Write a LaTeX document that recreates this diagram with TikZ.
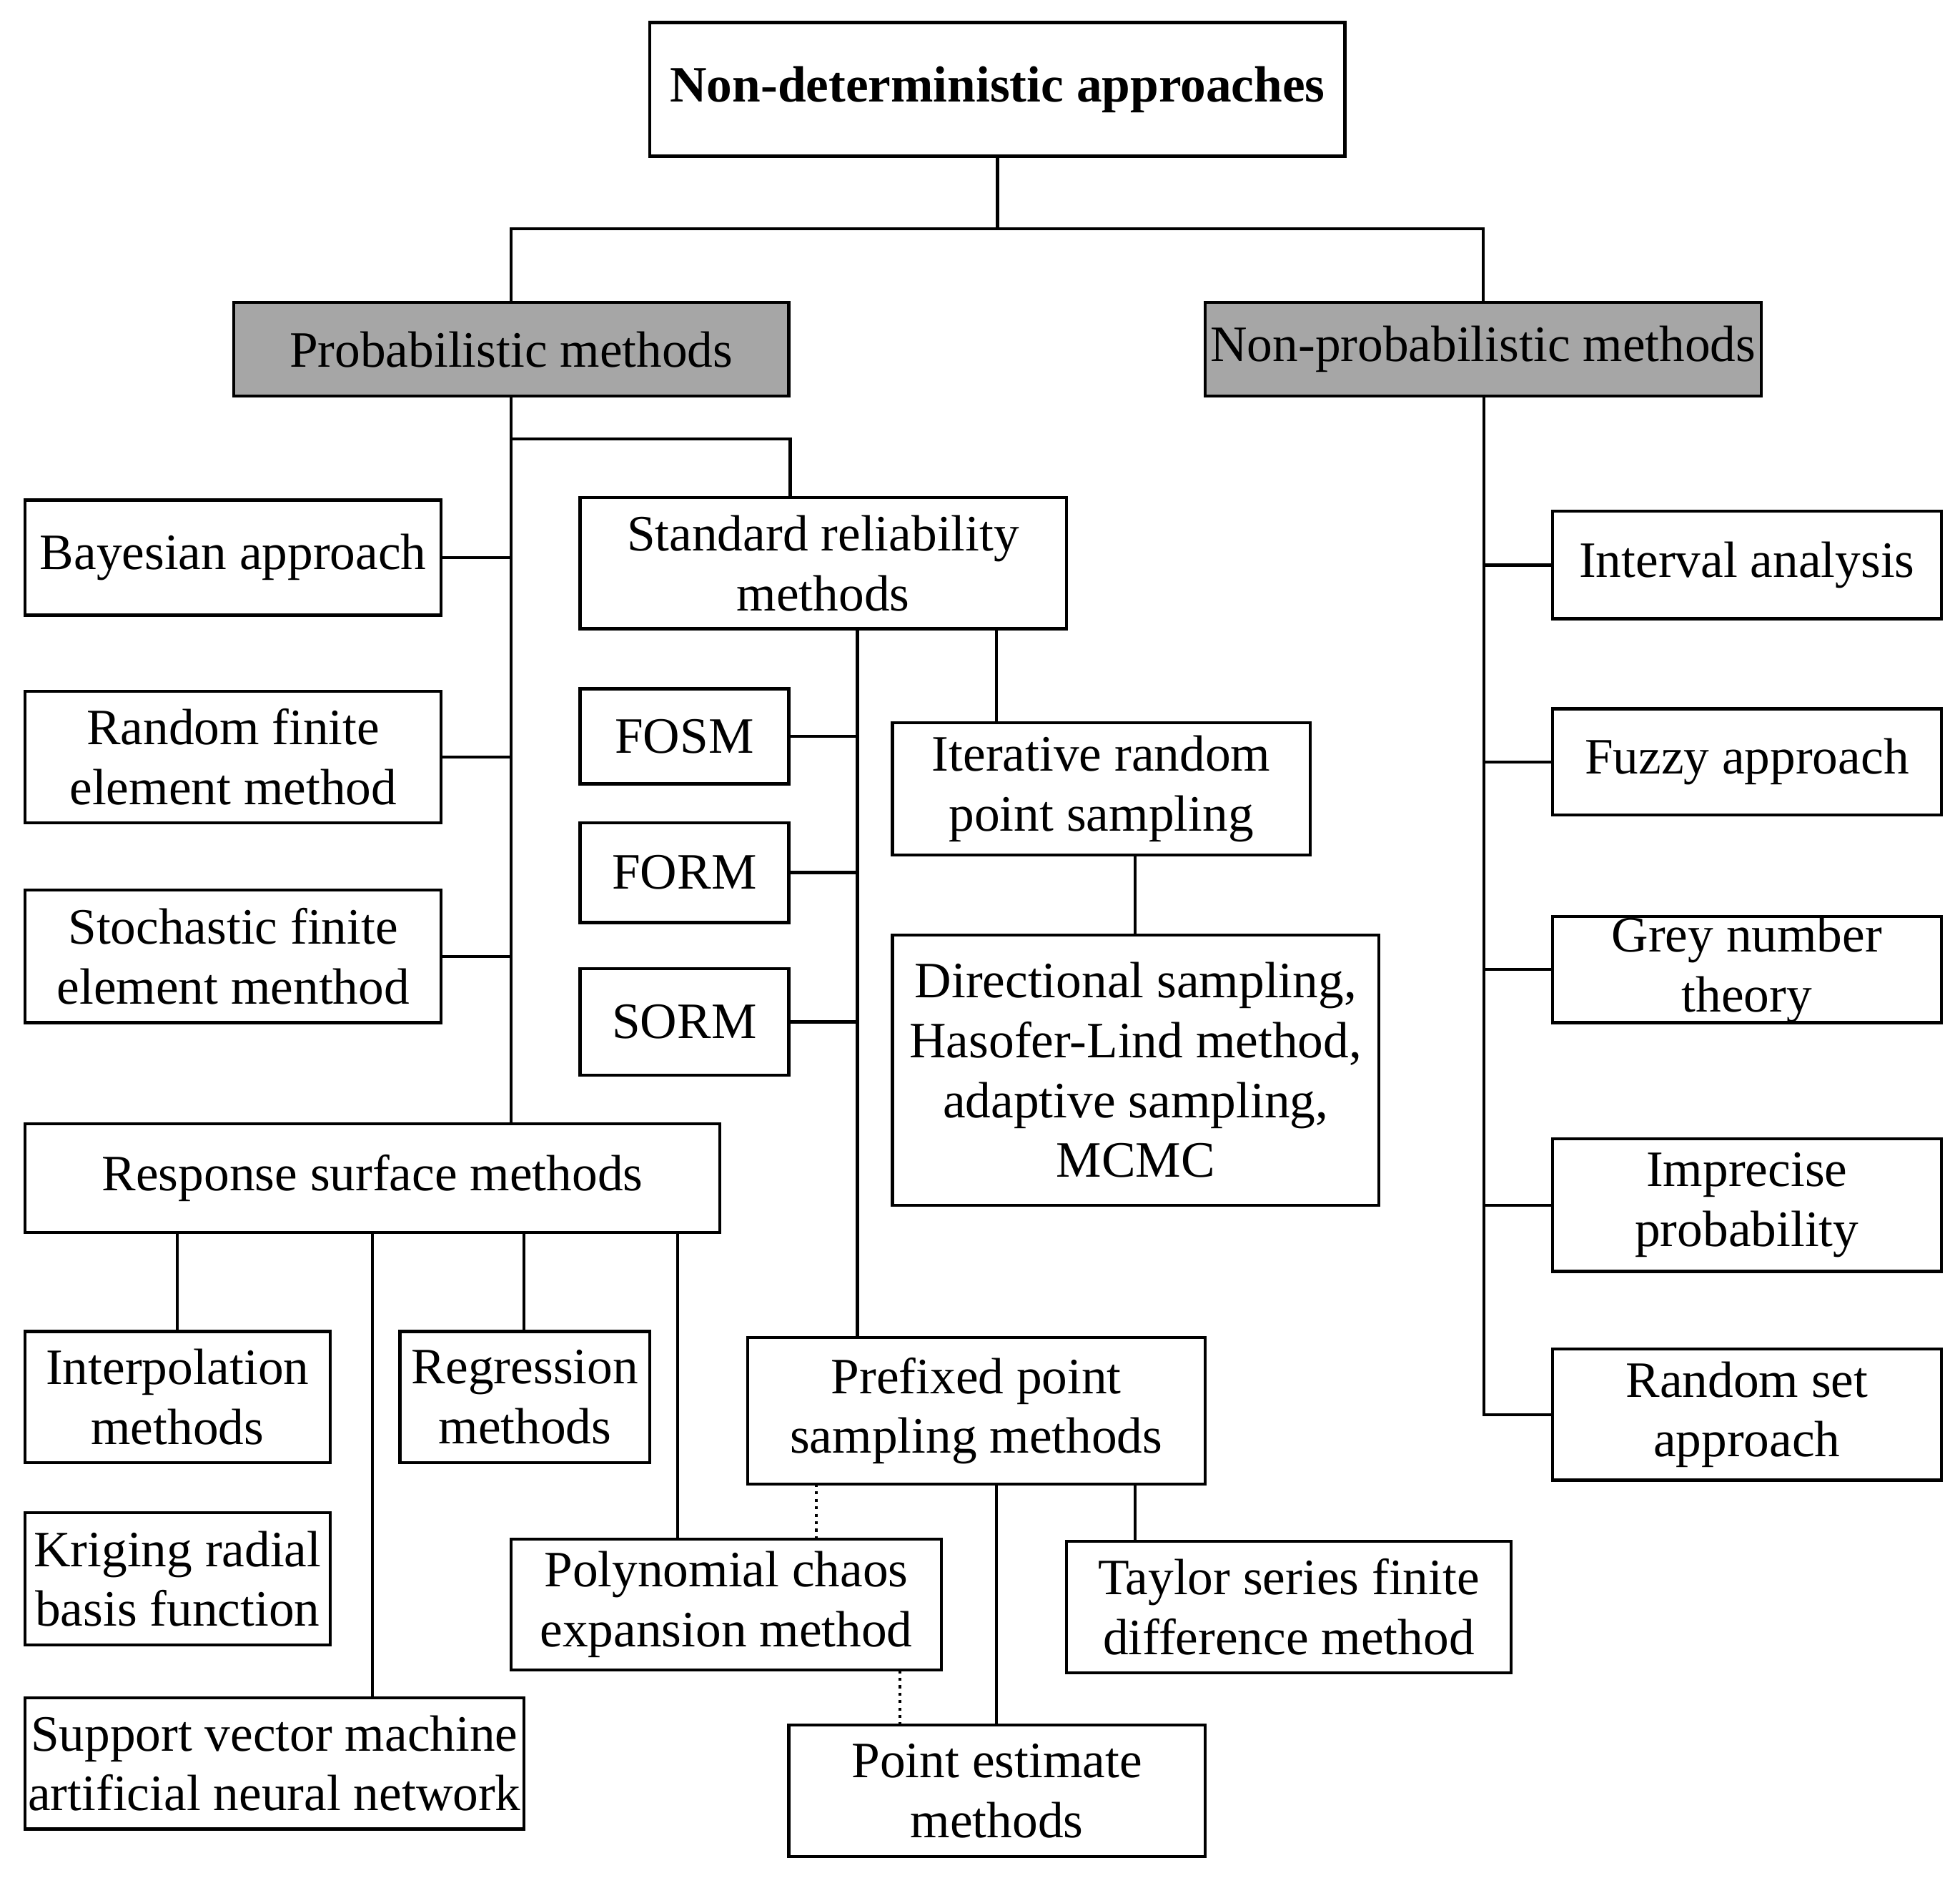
\documentclass[tikz,border=0pt]{standalone}
\usepackage{fontspec}
\setmainfont{Liberation Serif}
\begin{document}
\begin{tikzpicture}[x=0.01cm,y=-0.01cm,
  box/.style={draw,line width=0.7pt,inner sep=0pt,align=center,font=\fontsize{11.6}{13.6}\selectfont},
  gbox/.style={box,fill=gray!70},
  ln/.style={line width=0.7pt},
  dl/.style={line width=0.7pt,densely dotted}]
\useasboundingbox (0,0) rectangle (1568,1506);
\newcommand\bx[7][box]{\node[#1,minimum width={(#5-#3)*0.01cm},minimum height={(#6-#4)*0.01cm}] (#2) at ({(#3+#5)/2},{(#4+#6)/2}) {#7};}
\bx{top}{520}{18}{1076}{125}{\textbf{Non-deterministic approaches}}
\bx[gbox]{prob}{187}{242}{631}{317}{Probabilistic methods}
\bx[gbox]{nprob}{964}{242}{1409}{317}{Non-probabilistic methods}
\bx{bay}{20}{400}{353}{492}{Bayesian approach}
\bx{rfem}{20}{553}{353}{658}{Random finite\\element method}
\bx{sfem}{20}{712}{353}{818}{Stochastic finite\\element menthod}
\bx{srm}{464}{398}{853}{503}{Standard reliability\\methods}
\bx{fosm}{464}{551}{631}{627}{FOSM}
\bx{form}{464}{658}{631}{738}{FORM}
\bx{sorm}{464}{775}{631}{860}{SORM}
\bx{irps}{714}{578}{1048}{684}{Iterative random\\point sampling}
\bx{dir}{714}{748}{1103}{964}{Directional sampling,\\Hasofer-Lind method,\\adaptive sampling,\\MCMC}
\bx{rsm}{20}{899}{576}{986}{Response surface methods}
\bx{interp}{20}{1065}{264}{1170}{Interpolation\\methods}
\bx{regr}{320}{1065}{520}{1170}{Regression\\methods}
\bx{krig}{20}{1210}{264}{1316}{Kriging radial\\basis function}
\bx{svm}{20}{1358}{419}{1463}{Support vector machine\\artificial neural network}
\bx{pfx}{598}{1070}{964}{1187}{Prefixed point\\sampling methods}
\bx{pce}{409}{1231}{753}{1336}{Polynomial chaos\\expansion method}
\bx{tay}{853}{1233}{1209}{1338}{Taylor series finite\\difference method}
\bx{pem}{631}{1380}{964}{1485}{Point estimate\\methods}
\bx{intv}{1242}{409}{1553}{495}{Interval analysis}
\bx{fuz}{1242}{567}{1553}{652}{Fuzzy approach}
\bx{grey}{1242}{733}{1553}{818}{Grey number\\theory}
\bx{impr}{1242}{911}{1553}{1017}{Imprecise\\probability}
\bx{rset}{1242}{1079}{1553}{1184}{Random set\\approach}
% top
\coordinate (tj) at (798,183);
\draw[ln] (top.south) -- (tj);
\draw[ln] (prob.north) |- (tj) -| (nprob.north);
% probabilistic
\draw[ln] (prob.south) -- (prob.south |- rsm.north);
\draw[ln] (bay.east) -- (bay.east -| prob.south);
\draw[ln] (rfem.east) -- (rfem.east -| prob.south);
\draw[ln] (sfem.east) -- (sfem.east -| prob.south);
\coordinate (pj) at (409,351);
\draw[ln] (pj) -| (srm.north -| fosm.north east);
% standard reliability
\coordinate (s1) at (686,503);
\draw[ln] (s1) -- (s1 |- pfx.north);
\draw[ln] (fosm.east) -- (fosm.east -| s1);
\draw[ln] (form.east) -- (form.east -| s1);
\draw[ln] (sorm.east) -- (sorm.east -| s1);
\coordinate (s2) at (797,503);
\draw[ln] (s2) -- (s2 |- irps.north);
\coordinate (i1) at (908,684);
\draw[ln] (i1) -- (i1 |- dir.north);
% response surface
\coordinate (r1) at (142,986); \coordinate (r2) at (298,986);
\coordinate (r3) at (419,986); \coordinate (r4) at (542,986);
\draw[ln] (r1) -- (r1 |- interp.north);
\draw[ln] (r2) -- (r2 |- svm.north);
\draw[ln] (r3) -- (r3 |- regr.north);
\draw[ln] (r4) -- (r4 |- pce.north);
% prefixed
\coordinate (p1) at (653,1187); \coordinate (p2) at (797,1187); \coordinate (p3) at (908,1187);
\draw[dl] (p1) -- (p1 |- pce.north);
\draw[ln] (p2) -- (p2 |- pem.north);
\draw[ln] (p3) -- (p3 |- tay.north);
\coordinate (c1) at (720,1336);
\draw[dl] (c1) -- (c1 |- pem.north);
% non-probabilistic
\coordinate (n1) at (1187,317);
\draw[ln] (n1) |- (rset.west);
\draw[ln] (intv.west) -- (intv.west -| n1);
\draw[ln] (fuz.west) -- (fuz.west -| n1);
\draw[ln] (grey.west) -- (grey.west -| n1);
\draw[ln] (impr.west) -- (impr.west -| n1);
\end{tikzpicture}
\end{document}
